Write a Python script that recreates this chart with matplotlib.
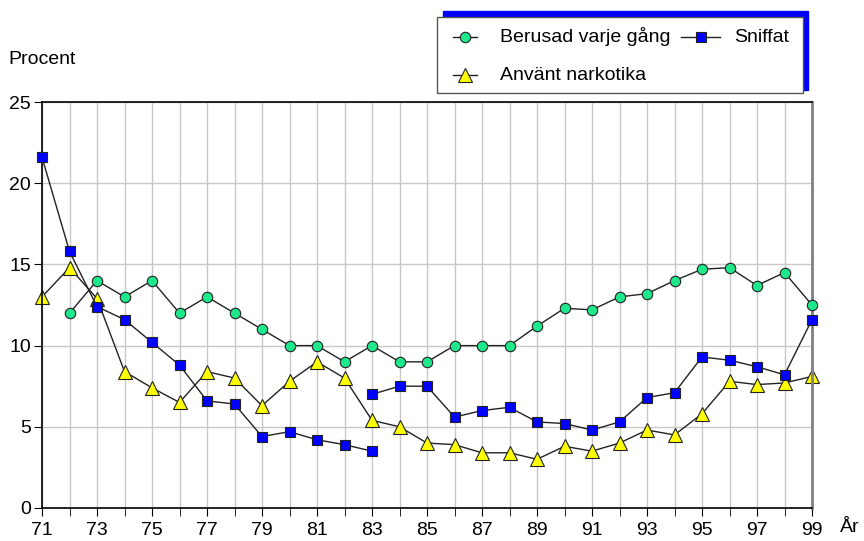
import matplotlib.pyplot as plt
from matplotlib.patches import Rectangle
from matplotlib.lines import Line2D

plt.rcParams['font.family'] = ['Liberation Sans', 'DejaVu Sans']

# data
years = list(range(71, 100))
berusad_years = list(range(72, 100))
berusad = [12, 14, 13, 14, 12, 13, 12, 11, 10, 10, 9, 10, 9, 9, 10, 10, 10,
           11.2, 12.3, 12.2, 13, 13.2, 14, 14.7, 14.8, 13.7, 14.5, 12.5]
sniffat_years_a = list(range(71, 84))
sniffat_a = [21.6, 15.8, 12.4, 11.6, 10.2, 8.8, 6.6, 6.4, 4.4, 4.7, 4.2, 3.9, 3.5]
sniffat_years_b = list(range(83, 100))
sniffat_b = [7.0, 7.5, 7.5, 5.6, 6.0, 6.2, 5.3, 5.2, 4.8, 5.3, 6.8, 7.1, 9.3,
             9.1, 8.7, 8.2, 11.6]
narkotika = [13.0, 14.8, 12.9, 8.4, 7.4, 6.5, 8.4, 8.0, 6.3, 7.8, 9.0, 8.0, 5.4,
             5.0, 4.0, 3.9, 3.4, 3.4, 3.0, 3.8, 3.5, 4.0, 4.8, 4.5, 5.8, 7.8,
             7.6, 7.7, 8.1]
tick_years = list(range(71, 100, 2))

W, H = 864, 541
fig = plt.figure(figsize=(W / 100, H / 100), dpi=100)
ax = fig.add_axes([42/W, 1-508/H, 770/W, 406/H])

line_kw = dict(color='#222222', lw=1, markeredgecolor='#222222',
               markeredgewidth=0.8, clip_on=False)
green = dict(marker='o', ms=7.5, markerfacecolor='#1EE88C')
blue = dict(marker='s', ms=7.5, markerfacecolor='#0000FF')
yellow = dict(marker='^', ms=9.5, markerfacecolor='#FFFF00')

ax.plot(berusad_years, berusad, zorder=4, **green, **line_kw)
ax.plot(sniffat_years_a, sniffat_a, zorder=3, **blue, **line_kw)
ax.plot(sniffat_years_b, sniffat_b, zorder=3, **blue, **line_kw)
ax.plot(years, narkotika, zorder=2, **yellow, **line_kw)

ax.set_xlim(71, 99)
ax.set_ylim(0, 25)
ax.set_xticks(years, minor=True)
ax.set_xticks(tick_years)
ax.set_yticks([0, 5, 10, 15, 20, 25])
ax.grid(True, which='both', color='#C8C8C8', lw=1)
ax.set_axisbelow(True)
ax.tick_params(which='both', direction='out', length=6, color='black', labelsize=14)
ax.tick_params(axis='x', pad=4)
ax.tick_params(axis='y', pad=2)
ax.spines['right'].set_color('#808080')
ax.spines['right'].set_linewidth(2)
for s in ['left', 'bottom', 'top']:
    ax.spines[s].set_linewidth(1.2)

fig.text(8/W, 1-59/H, 'Procent', fontsize=14, va='center', ha='left')
fig.text(840/W, 1-528/H, 'År', fontsize=14, va='center', ha='left')

# legend box with blue shadow, drawn by hand
fig.patches.append(Rectangle((443/W, 1-90/H), 365/W, 79/H,
                             transform=fig.transFigure, facecolor='#0000FF',
                             edgecolor='#0000FF', zorder=0))
fig.patches.append(Rectangle((437/W, 1-93/H), 366/W, 76/H,
                             transform=fig.transFigure, facecolor='white',
                             edgecolor='#555555', lw=1, zorder=1))

entries = [(453, 477, 500, 37, green, 'Berusad varje gång'),
           (681, 720, 734, 37, blue, 'Sniffat'),
           (453, 477, 500, 75, yellow, 'Använt narkotika')]
for x0, x1, xt, y, style, label in entries:
    st = dict(style)
    if st['marker'] == 's':
        st['ms'] = 7
    fig.lines.append(Line2D([x0/W, (x0+x1)/2/W, x1/W], [1-y/H]*3,
                            transform=fig.transFigure, markevery=[1],
                            zorder=2, **st, **line_kw))
    fig.text(xt/W, 1-y/H, label, fontsize=14, va='center', ha='left')

fig.savefig('out.png', dpi=100)
